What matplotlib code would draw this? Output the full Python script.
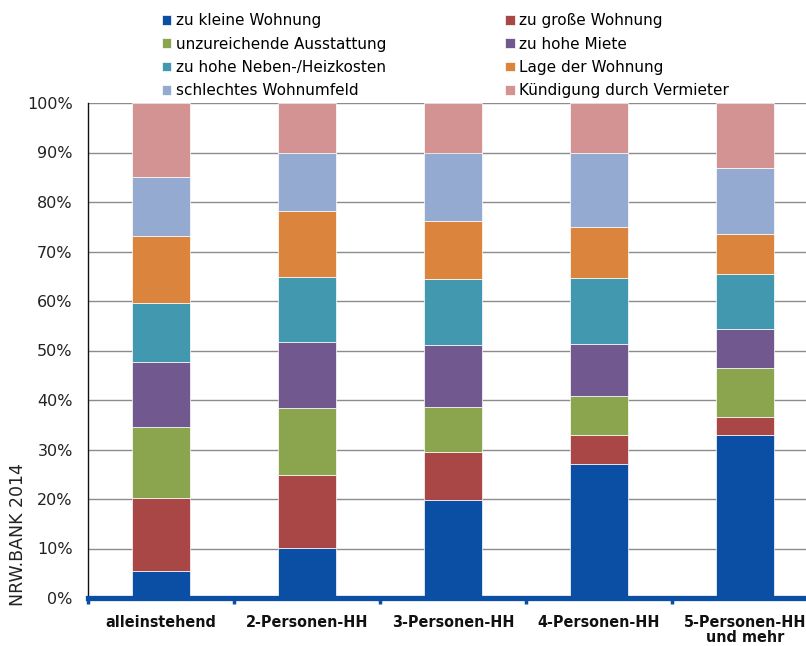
import matplotlib
matplotlib.use("Agg")
import matplotlib.pyplot as plt
import numpy as np

# ==========================================
# DATA (Anteile in %)
# ==========================================
categories = ["alleinstehend", "2-Personen-HH", "3-Personen-HH", "4-Personen-HH", "5-Personen-HH\nund mehr"]
series_names = ["zu kleine Wohnung", "zu große Wohnung", "unzureichende Ausstattung", "zu hohe Miete",
                "zu hohe Neben-/Heizkosten", "Lage der Wohnung", "schlechtes Wohnumfeld",
                "Kündigung durch Vermieter"]
zu_kleine = [5.4, 10.2, 19.8, 27.0, 33.0]
zu_gross = [14.8, 14.6, 9.7, 5.9, 3.5]
ausstattung = [14.4, 13.5, 9.0, 8.0, 10.0]
miete = [13.0, 13.5, 12.6, 10.4, 7.8]
nebenkosten = [12.0, 13.1, 13.4, 13.3, 11.2]
lage = [13.5, 13.3, 11.6, 10.4, 8.0]
wohnumfeld = [11.9, 11.7, 13.9, 15.0, 13.3]
kuendigung = [15.0, 10.1, 10.0, 10.0, 13.2]
yticks = [0, 10, 20, 30, 40, 50, 60, 70, 80, 90, 100]

COLORS = ["#0A4FA3", "#A94646", "#8AA54E", "#71598F", "#4298AF", "#DB843D", "#95AAD0", "#D29392"]

series = [zu_kleine, zu_gross, ausstattung, miete, nebenkosten, lage, wohnumfeld, kuendigung]

fig = plt.figure(figsize=(8.06, 6.46), dpi=100)
fig.patch.set_facecolor("white")
ax = fig.add_axes([88 / 806, 1 - 598 / 646, 730 / 806, 495 / 646])

x = np.arange(len(categories))
bottom = np.zeros(len(categories))
handles = []
for vals, name, col in zip(series, series_names, COLORS):
    b = ax.bar(x, vals, width=0.4, bottom=bottom, color=col, edgecolor="#ffffff", linewidth=0.5,
               label=name, zorder=3)
    handles.append(b)
    bottom += np.array(vals)

ax.set_xlim(-0.5, len(categories) - 0.5)
ax.set_ylim(0, 100)
ax.set_yticks(yticks)
ax.set_yticklabels([f"{v}%" for v in yticks], fontsize=11.5, color="#222222")
ax.yaxis.grid(True, color="#8c8c8c", linewidth=1.0, zorder=0)
ax.tick_params(axis="y", length=0, pad=11)

# x-Achse: blaue Linie mit Ticks an den Kategoriegrenzen
ax.spines["bottom"].set_color("#0A4FA3")
ax.spines["bottom"].set_linewidth(3.8)
ax.spines["bottom"].set_zorder(5)
ax.spines["left"].set_color("#111111")
ax.spines["left"].set_linewidth(1.0)
ax.spines["top"].set_visible(False)
ax.spines["right"].set_visible(False)
ax.set_xticks(np.arange(-0.5, len(categories), 1.0))
ax.set_xticklabels([])
ax.tick_params(axis="x", direction="out", length=4, width=2.5, color="#0A4FA3")
for i, cat in enumerate(categories):
    ax.text(i, -3.4, cat, ha="center", va="top", fontsize=11.5, weight="bold", color="#111111",
            family="DejaVu Sans", stretch="condensed", linespacing=1.0)

fig.text(18 / 806, 1 - 535 / 646, "NRW.BANK 2014", rotation=90, ha="center", va="center",
         fontsize=12.5, color="#222222")

# Legende zeilenweise wie im Original (2 Spalten)
order = [0, 2, 4, 6, 1, 3, 5, 7]
fig.legend(handles=[handles[i] for i in order], labels=[series_names[i] for i in order], ncol=2,
           loc="upper left", bbox_to_anchor=(156 / 806, 1 - 7 / 646), frameon=False, fontsize=11,
           handlelength=0.6, handleheight=0.6, handletextpad=0.3, columnspacing=7.8,
           labelspacing=0.55, borderaxespad=0)

plt.savefig("out.png", dpi=100, facecolor="white")
